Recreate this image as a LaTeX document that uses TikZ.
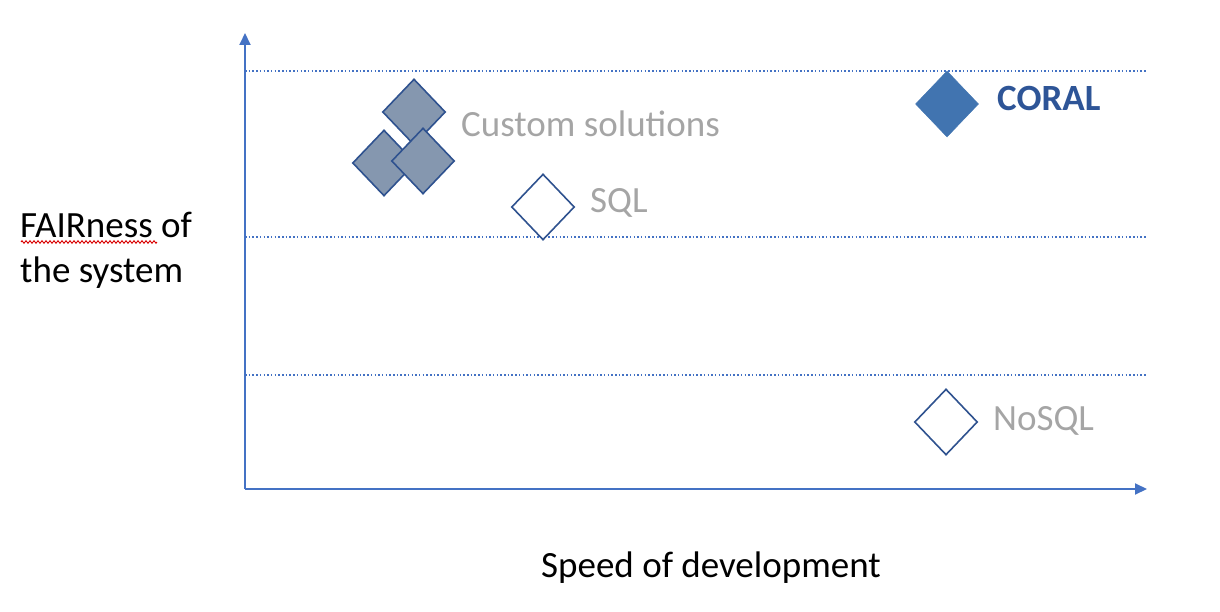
\documentclass[tikz,border=0pt]{standalone}
\usepackage{fontspec}
\setmainfont{Carlito}
\usetikzlibrary{shapes.geometric,arrows.meta,decorations.pathmorphing}
\definecolor{axisblue}{HTML}{4472C4}
\definecolor{edgeblue}{HTML}{2F528F}
\definecolor{slate}{HTML}{8597AF}
\definecolor{coralblue}{HTML}{4174B0}
\definecolor{labelgray}{HTML}{A5A5A5}
\definecolor{coraltext}{HTML}{2E5597}
\tikzset{
  axis/.style={draw=axisblue, line width=2pt, -{Triangle[length=12pt,width=11pt]}},
  guide/.style={draw=axisblue, line width=1.5pt, dash pattern=on 1.5pt off 2.2pt},
  mark0/.style={shape=diamond, draw=edgeblue, line width=1.6pt, inner sep=0pt, minimum width=63pt, minimum height=66pt},
  lbl/.style={font=\fontsize{37}{44}\selectfont, inner sep=0pt, anchor=base west},
}
\begin{document}
\begin{tikzpicture}[x=1pt,y=-1pt]
\useasboundingbox (0,0) rectangle (1220,612);
% axes
\coordinate (O) at (245,489);
\coordinate (ytip) at (245,33);
\coordinate (xtip) at (1147,489);
\draw[axis] (O) -- (ytip);
\draw[axis] (O) -- (xtip);
% dotted guides
\coordinate (g1a) at (245,71);  \coordinate (g1b) at (1147,71);
\coordinate (g2a) at (245,237); \coordinate (g2b) at (1147,237);
\coordinate (g3a) at (245,375); \coordinate (g3b) at (1147,375);
\draw[guide] (g1a) -- (g1b);
\draw[guide] (g2a) -- (g2b);
\draw[guide] (g3a) -- (g3b);
% custom solutions diamonds
\node[mark0, fill=slate] (c1) at (414,112) {};
\node[mark0, fill=slate] (c2) at (384,163) {};
\node[mark0, fill=slate] (c3) at (423,161) {};
% SQL
\node[mark0, fill=white] (sql) at (543,207) {};
% CORAL
\node[mark0, fill=coralblue, draw=coralblue, line width=0.5pt] (coral) at (947,104) {};
% NoSQL
\node[mark0, fill=white] (nosql) at (946,422) {};
% labels
\node[lbl, text=labelgray] (tcustom) at (461,137) {Custom solutions};
\node[lbl, text=labelgray] (tsql) at (590,213) {SQL};
\node[lbl, text=coraltext, font=\fontsize{37}{44}\selectfont\bfseries] (tcoral) at (997,111) {CORAL};
\node[lbl, text=labelgray] (tnosql) at (993,430) {NoSQL};
\node[lbl, text=black] (tfair) at (20,238) {FAIRness of};
\node[lbl, text=black] (tsys) at (20,282) {the system};
\node[lbl, text=black] (tspeed) at (541,577) {Speed of development};
% spell-check squiggle
\coordinate (sq1) at (21,242);
\coordinate (sq2) at (157,242);
\draw[red!85!black, line width=0.9pt, decorate, decoration={zigzag, amplitude=1.3pt, segment length=4pt}] (sq1) -- (sq2);
\end{tikzpicture}
\end{document}
